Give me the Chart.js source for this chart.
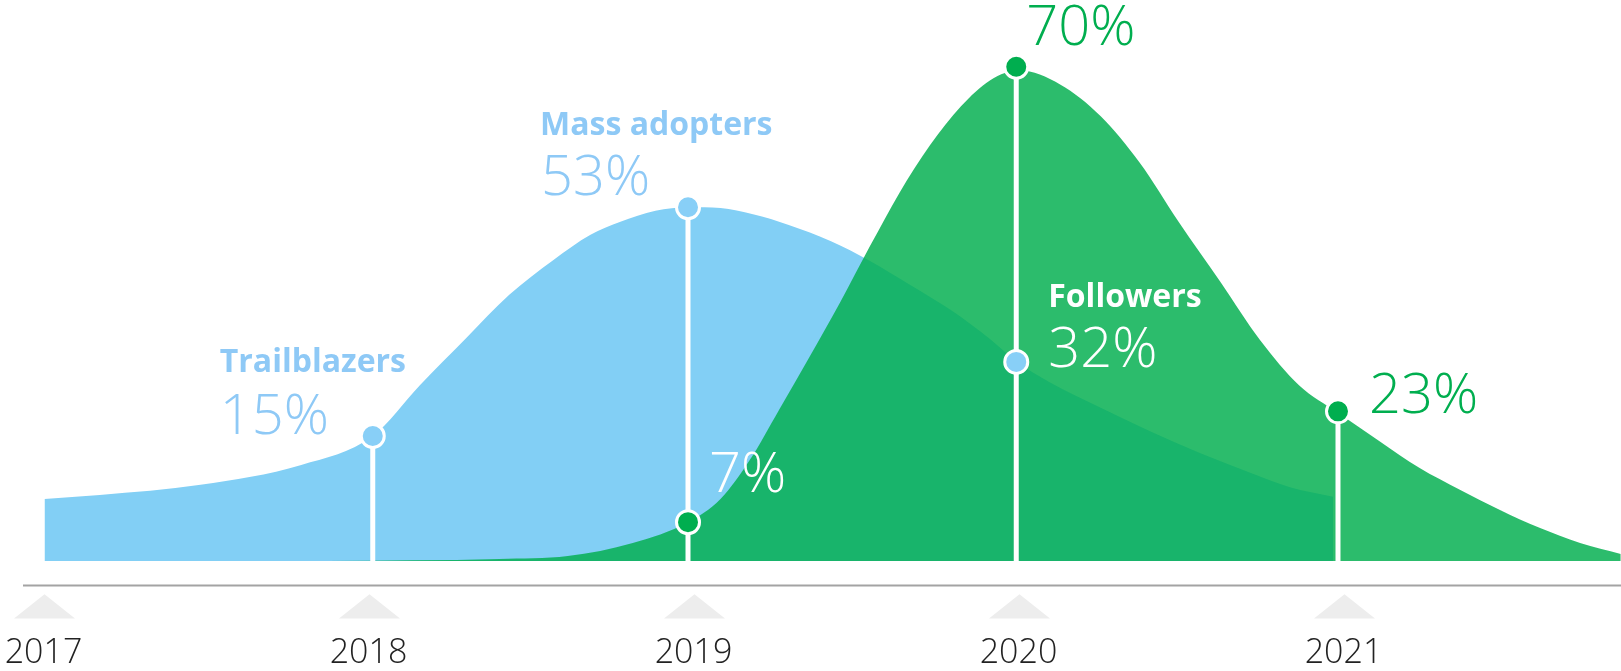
<!DOCTYPE html>
<html>
<head>
<meta charset="utf-8">
<script src="https://cdn.jsdelivr.net/npm/chart.js@4.4.1/dist/chart.umd.min.js"></script>
<style>
  html, body { margin: 0; padding: 0; background: #fff; }
  #wrap { width: 1621px; height: 671px; position: relative; }
</style>
</head>
<body>
<div id="wrap"><canvas id="chart"></canvas></div>
<script>
// -------- Data ----------
const years = [2017, 2018, 2019, 2020, 2021];

// blue wave (x in years, y in plot units)
const blueX = [2017.0, 2017.17, 2017.48, 2017.79, 2018.01, 2018.155, 2018.3, 2018.43, 2018.565, 2018.68, 2018.77, 2018.88, 2018.98,
               2019.08, 2019.18, 2019.29, 2019.42, 2019.54, 2019.66, 2019.79, 2019.91, 2019.99, 2020.09, 2020.25, 2020.4, 2020.555, 2020.71, 2020.83, 2020.965];
const blueY = [8.8, 9.35, 10.8, 13.6, 17.7, 24.9, 31.7, 37.7, 42.6, 46.2, 48.0, 49.6, 50.1,
               50.0, 49.1, 47.6, 45.3, 42.5, 39.2, 35.5, 31.4, 28.3, 25.4, 21.7, 18.4, 15.3, 12.5, 10.5, 9.1];

// green wave
const greenX = [2017.87, 2018.4, 2018.61, 2018.81, 2018.98, 2019.08, 2019.17, 2019.26, 2019.355, 2019.45, 2019.54, 2019.63, 2019.725, 2019.82, 2019.91,
                2020.0, 2020.125, 2020.25, 2020.37, 2020.49, 2020.62, 2020.74, 2020.86, 2020.98, 2021.11, 2021.23, 2021.355, 2021.48, 2021.6, 2021.725, 2021.85];
const greenY = [0, 0.3, 0.7, 2.55, 5.5, 8.8, 14.3, 21.4, 29.0, 36.8, 44.6, 52.1, 58.9, 64.4, 68.1,
                69.5, 67.5, 63.0, 56.4, 48.0, 39.4, 31.3, 24.9, 21.0, 16.9, 13.2, 10.1, 7.2, 4.7, 2.55, 1.0];

// markers sitting on the waves
const blueMarkX = [2018.01, 2018.98, 2019.99];
const blueMarkY = [17.7, 50.1, 28.2];
const greenMarkX = [2018.98, 2019.99, 2020.98];
const greenMarkY = [5.5, 70, 21.2];

// annotation texts
const groupNames = ["Trailblazers", "Mass adopters", "Followers"];
const groupPct = ["15%", "53%", "32%"];
const greenPct = ["7%", "70%", "23%"];

// -------- Colours ----------
const BLUE = "rgb(130,207,245)";
const BLUE_TEXT = "#8ec9f6";
const BLUE_DOT = "#88cff7";
const GREEN_FILL = "rgba(3,175,80,0.84)";
const GREEN = "#00ae4f";

const pts = (xs, ys) => xs.map((x, i) => ({ x, y: ys[i] }));

// white stems: from the top marker of each year down to the base
const stemTops = [
  { x: blueMarkX[0], y: blueMarkY[0] },
  { x: blueMarkX[1], y: blueMarkY[1] },
  { x: greenMarkX[1], y: greenMarkY[1] },
  { x: greenMarkX[2], y: greenMarkY[2] }
];

const stemSets = stemTops.map(p => ({
  type: "line",
  data: [{ x: p.x, y: p.y }, { x: p.x, y: -0.15 }],
  borderColor: "#fff",
  borderWidth: 5,
  pointRadius: 0,
  fill: false
}));

// -------- Plugin: axis line, triangles, year labels, annotations ----------
const deco = {
  id: "deco",
  afterDraw(chart) {
    const { ctx, chartArea, scales: { x, y } } = chart;
    const base = chartArea.bottom;
    ctx.save();

    // axis line
    ctx.strokeStyle = "#a3a3a3";
    ctx.lineWidth = 2;
    ctx.beginPath();
    ctx.moveTo(chartArea.left, base);
    ctx.lineTo(chartArea.right, base);
    ctx.stroke();

    // triangles + years
    ctx.textAlign = "center";
    ctx.textBaseline = "alphabetic";
    ctx.font = "300 34px 'Open Sans', sans-serif";
    years.forEach(v => {
      const px = x.getPixelForValue(v);
      ctx.fillStyle = "#ededed";
      ctx.beginPath();
      ctx.moveTo(px, base + 8.7);
      ctx.lineTo(px + 30.5, base + 33);
      ctx.lineTo(px - 30.5, base + 33);
      ctx.closePath();
      ctx.fill();
      ctx.fillStyle = "#222";
      ctx.fillText(String(v), px - 1, base + 77.7);
    });

    const at = (mx, my) => ({ px: x.getPixelForValue(mx), py: y.getPixelForValue(my) });
    const bold = "bold 32px 'Open Sans', sans-serif";
    const light = "300 56px 'Open Sans', sans-serif";
    ctx.textAlign = "left";

    const put = (txt, font, color, mx, my, dx, dy) => {
      const p = at(mx, my);
      ctx.font = font;
      ctx.fillStyle = color;
      ctx.fillText(txt, p.px + dx, p.py + dy);
    };

    // blue groups
    put(groupNames[0], bold, BLUE_TEXT, blueMarkX[0], blueMarkY[0], -153, -64);
    put(groupPct[0], light, BLUE_TEXT, blueMarkX[0], blueMarkY[0], -153, -2);
    put(groupNames[1], bold, BLUE_TEXT, blueMarkX[1], blueMarkY[1], -148, -72);
    put(groupPct[1], light, BLUE_TEXT, blueMarkX[1], blueMarkY[1], -147, -12);
    put(groupNames[2], bold, "#fff", blueMarkX[2], blueMarkY[2], 32, -55);
    put(groupPct[2], light, "#fff", blueMarkX[2], blueMarkY[2], 32, 5);

    // green values
    put(greenPct[0], light, "#fff", greenMarkX[0], greenMarkY[0], 21, -30);
    put(greenPct[1], light, GREEN, greenMarkX[1], greenMarkY[1], 10, -22);
    put(greenPct[2], light, GREEN, greenMarkX[2], greenMarkY[2], 31, 2);
    ctx.restore();
  }
};

// -------- Chart ----------
new Chart(document.getElementById("chart"), {
  type: "line",
  data: {
    datasets: [
      {
        type: "scatter",
        data: pts(blueMarkX, blueMarkY),
        pointRadius: 11.5,
        pointBorderWidth: 3,
        pointBorderColor: "#fff",
        pointBackgroundColor: BLUE_DOT,
        showLine: false,
        clip: false
      },
      {
        type: "scatter",
        data: pts(greenMarkX, greenMarkY),
        pointRadius: 11.5,
        pointBorderWidth: 3,
        pointBorderColor: "#fff",
        pointBackgroundColor: GREEN,
        showLine: false,
        clip: false
      },
      ...stemSets,
      {
        data: pts(greenX, greenY),
        borderWidth: 0,
        borderColor: "transparent",
        backgroundColor: GREEN_FILL,
        fill: "origin",
        pointRadius: 0,
        cubicInterpolationMode: "monotone"
      },
      {
        data: pts(blueX, blueY),
        borderWidth: 0,
        borderColor: "transparent",
        backgroundColor: BLUE,
        fill: "origin",
        pointRadius: 0,
        cubicInterpolationMode: "monotone"
      }
    ]
  },
  options: {
    responsive: true,
    maintainAspectRatio: false,
    animation: false,
    layout: { autoPadding: false, padding: { left: 23, right: 0, top: 0, bottom: 85.4 } },
    plugins: { legend: { display: false }, tooltip: { enabled: false } },
    scales: {
      x: {
        type: "linear",
        display: false,
        min: 2016.9338,
        max: 2021.8508
      },
      y: {
        display: false,
        min: -3.48,
        max: 79.45
      }
    }
  },
  plugins: [deco]
});
</script>
</body>
</html>
